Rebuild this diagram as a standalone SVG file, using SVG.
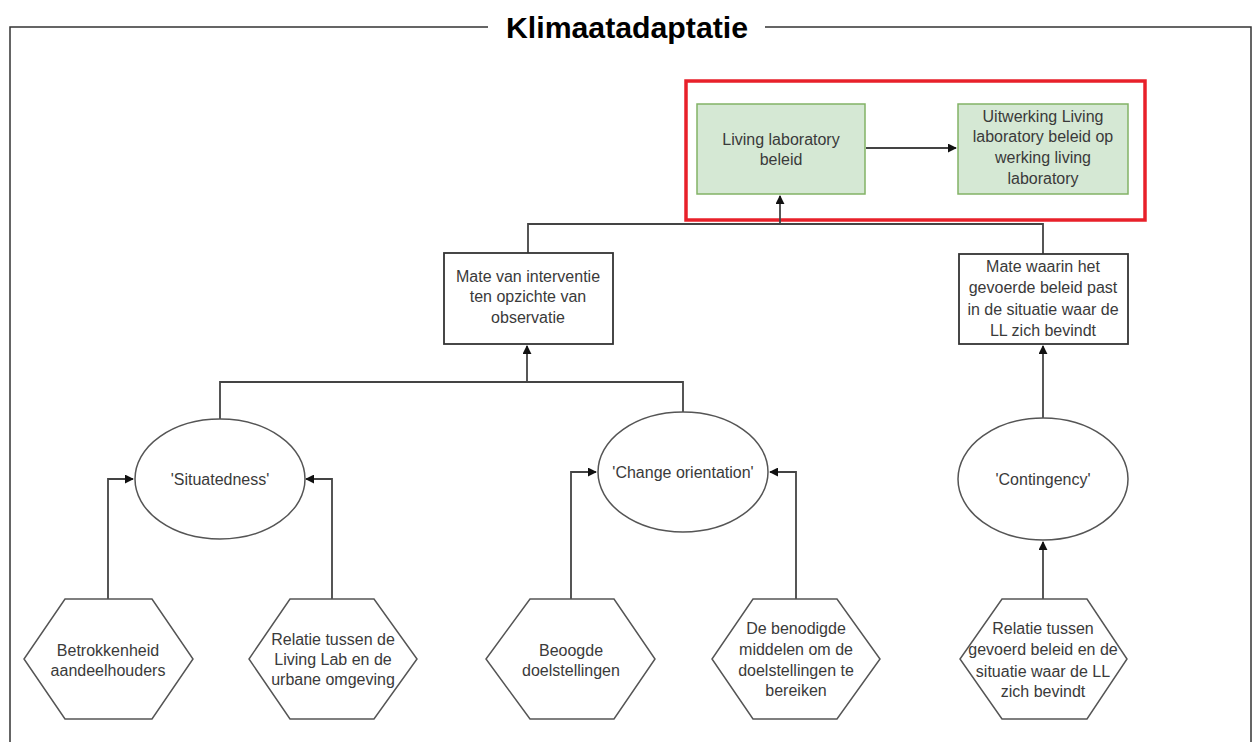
<svg xmlns="http://www.w3.org/2000/svg" width="1253" height="742" viewBox="0 0 1253 742">
<style>
.t{font-family:"Liberation Sans",Arial,sans-serif;font-size:16px;fill:#3a3a3a;text-anchor:middle}
.box{fill:#ffffff;stroke:#333;stroke-width:1.8}
.g{fill:#d5e8d4;stroke:#82b366;stroke-width:1.5}
.sh{fill:#ffffff;stroke:#555;stroke-width:1.5}
.c{fill:none;stroke:#444;stroke-width:1.8}
.frame{fill:none;stroke:#333;stroke-width:1.5}
</style>
<defs>
<marker id="ah" viewBox="0 0 10 10" refX="9" refY="5" markerWidth="9" markerHeight="9" markerUnits="userSpaceOnUse" orient="auto">
<path d="M0,0 L10,5 L0,10 Z" fill="#111"/>
</marker>
</defs>
<rect width="1253" height="742" fill="#ffffff"/>
<g id="frame">
<path class="frame" d="M10,742 V27 H488 M765,27 H1251 V742"/>
<text x="627" y="38" font-family="Liberation Sans,Arial,sans-serif" font-weight="bold" font-size="29" text-anchor="middle" fill="#000" textLength="242" lengthAdjust="spacingAndGlyphs">Klimaatadaptatie</text>
</g>
<g id="highlight">
<rect x="686" y="81" width="459" height="139" fill="none" stroke="#e8202a" stroke-width="3.5"/>
</g>
<g id="connectors">
<path class="c" d="M866,148 H956" marker-end="url(#ah)"/>
<path class="c" d="M528,253 V224 H1043 V254"/>
<path class="c" d="M780,224 V196" marker-end="url(#ah)" stroke-width="2.5"/>
<path class="c" d="M220,419 V382 H683 V412"/>
<path class="c" d="M527,382 V346" marker-end="url(#ah)"/>
<path class="c" d="M1043,418 V346" marker-end="url(#ah)"/>
<path class="c" d="M108,599 V479 H133" marker-end="url(#ah)"/>
<path class="c" d="M332,599 V479 H306" marker-end="url(#ah)"/>
<path class="c" d="M571,599 V472 H596" marker-end="url(#ah)"/>
<path class="c" d="M796,599 V472 H770" marker-end="url(#ah)"/>
<path class="c" d="M1043,599 V542" marker-end="url(#ah)"/>
</g>
<g id="living-lab-beleid">
<rect class="g" x="697" y="104" width="168" height="90"/>
<text class="t" x="781" y="145">Living laboratory</text>
<text class="t" x="781" y="165">beleid</text>
</g>
<g id="uitwerking">
<rect class="g" x="958" y="104" width="170" height="90"/>
<text class="t" x="1043" y="122">Uitwerking Living</text>
<text class="t" x="1043" y="142">laboratory beleid op</text>
<text class="t" x="1043" y="163">werking living</text>
<text class="t" x="1043" y="184">laboratory</text>
</g>
<g id="mate-interventie">
<rect class="box" x="444" y="253" width="169" height="91"/>
<text class="t" x="528" y="282">Mate van interventie</text>
<text class="t" x="528" y="302">ten opzichte van</text>
<text class="t" x="528" y="323">observatie</text>
</g>
<g id="mate-waarin">
<rect class="box" x="959" y="254" width="169" height="90"/>
<text class="t" x="1043" y="272">Mate waarin het</text>
<text class="t" x="1043" y="293">gevoerde beleid past</text>
<text class="t" x="1043" y="315">in de situatie waar de</text>
<text class="t" x="1043" y="336">LL zich bevindt</text>
</g>
<g id="situatedness">
<ellipse class="sh" cx="220" cy="479" rx="85" ry="60"/>
<text class="t" x="220" y="485">'Situatedness'</text>
</g>
<g id="change-orientation">
<ellipse class="sh" cx="683" cy="472" rx="85" ry="60"/>
<text class="t" x="683" y="478">'Change orientation'</text>
</g>
<g id="contingency">
<ellipse class="sh" cx="1043" cy="479" rx="85" ry="61"/>
<text class="t" x="1043" y="485">'Contingency'</text>
</g>
<g id="betrokkenheid">
<polygon class="sh" points="65,599 152,599 193,659 152,719 65,719 24,659"/>
<text class="t" x="108" y="656">Betrokkenheid</text>
<text class="t" x="108" y="676">aandeelhouders</text>
</g>
<g id="relatie-ll">
<polygon class="sh" points="290,599 374,599 417,659 374,719 290,719 249,659"/>
<text class="t" x="333" y="645">Relatie tussen de</text>
<text class="t" x="333" y="665">Living Lab en de</text>
<text class="t" x="333" y="685">urbane omgeving</text>
</g>
<g id="beoogde">
<polygon class="sh" points="530,599 614,599 655,659 614,719 530,719 486,659"/>
<text class="t" x="571" y="656">Beoogde</text>
<text class="t" x="571" y="676">doelstellingen</text>
</g>
<g id="benodigde">
<polygon class="sh" points="753,599 837,599 880,659 837,719 753,719 712,659"/>
<text class="t" x="796" y="634">De benodigde</text>
<text class="t" x="796" y="655">middelen om de</text>
<text class="t" x="796" y="676">doelstellingen te</text>
<text class="t" x="796" y="696">bereiken</text>
</g>
<g id="relatie-beleid">
<polygon class="sh" points="1002,599 1087,599 1127,659 1087,719 1002,719 960,659"/>
<text class="t" x="1043" y="634">Relatie tussen</text>
<text class="t" x="1043" y="655">gevoerd beleid en de</text>
<text class="t" x="1043" y="677">situatie waar de LL</text>
<text class="t" x="1043" y="697">zich bevindt</text>
</g>
</svg>
